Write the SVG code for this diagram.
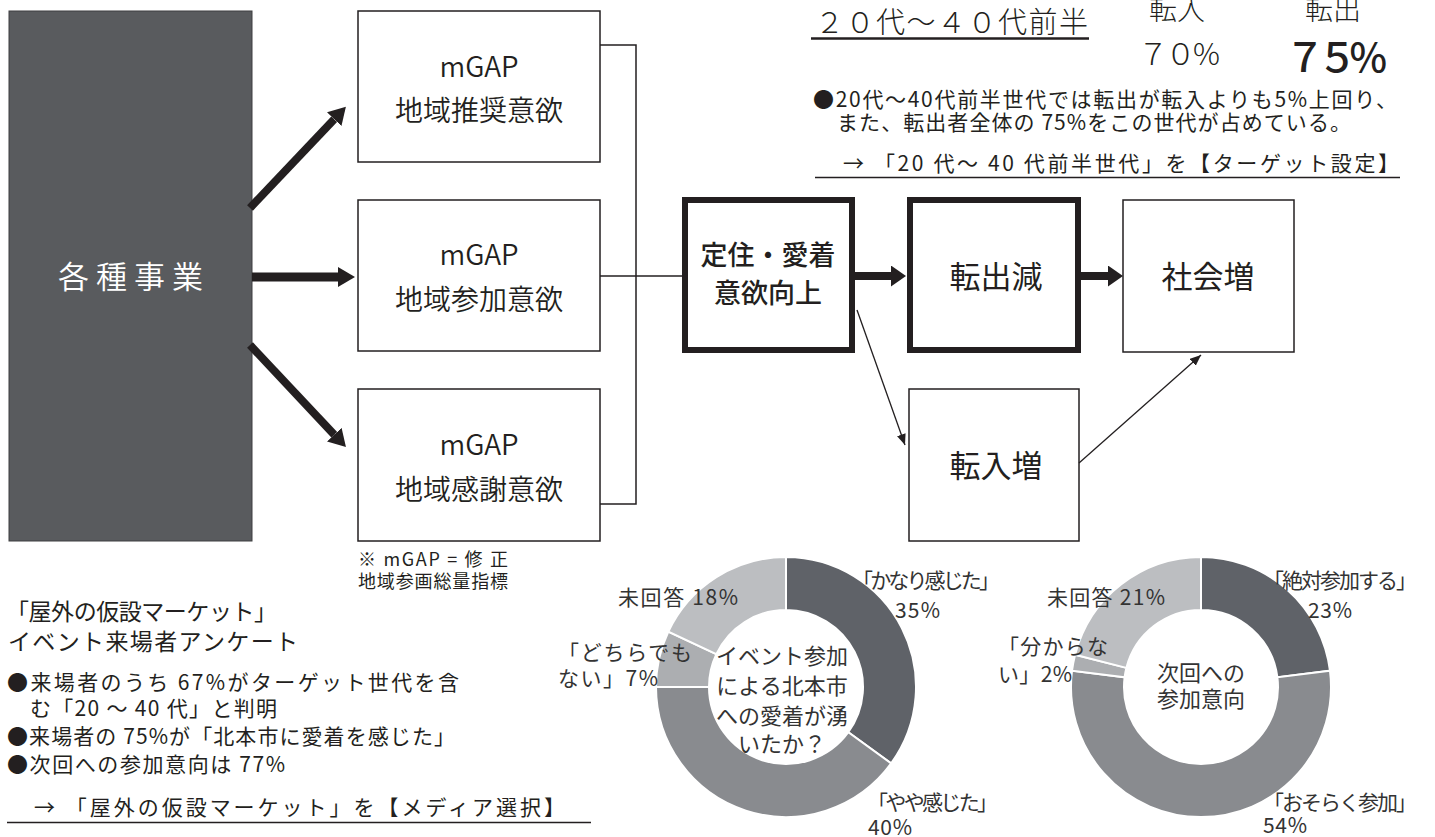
<svg xmlns="http://www.w3.org/2000/svg" width="1435" height="837" viewBox="0 0 1435 837">
<defs>
<style>
text{font-family:"Noto Sans CJK JP","Noto Sans",sans-serif;fill:#231f20}
.box{fill:#fff;stroke:#231f20;stroke-width:1.5}
.tbox{fill:#fff;stroke:#231f20;stroke-width:6}
.lbl{font-size:28px;text-anchor:middle;font-weight:350}
.blbl{font-size:31px;text-anchor:middle;font-weight:400}
.con{fill:none;stroke:#231f20;stroke-width:1.5}
.thick{stroke:#231f20;stroke-width:8;fill:none}
.thickh{stroke:#231f20;stroke-width:9;fill:none}
.thick2{stroke:#231f20;stroke-width:8;fill:none}
.thin{stroke:#231f20;stroke-width:1.3;fill:none}
.note{font-size:21px}
.ch{font-size:21px;fill:#333}
.chc{font-size:22px;fill:#333;text-anchor:middle}
.seg{stroke:#fff;stroke-width:2}
</style>
<marker id="headBig" markerUnits="userSpaceOnUse" markerWidth="18" markerHeight="22" refX="0" refY="10" orient="auto">
<path d="M0,0 L17,10 L0,20 Z" fill="#231f20"/>
</marker>
<marker id="headWide" markerUnits="userSpaceOnUse" markerWidth="16" markerHeight="22" refX="0" refY="10.5" orient="auto">
<path d="M0,0 L15,10.5 L0,21 Z" fill="#231f20"/>
</marker>
<marker id="headThin" markerUnits="userSpaceOnUse" markerWidth="12" markerHeight="10" refX="11" refY="4.5" orient="auto">
<path d="M0,0 L11,4.5 L0,9 Z" fill="#231f20"/>
</marker>
</defs>

<g id="node-jigyo">
<rect x="9" y="11" width="243" height="530" fill="#595b5e" stroke="#3e3f41" stroke-width="1"/>
<text x="134" y="288" font-size="31" text-anchor="middle" letter-spacing="7" font-weight="350" style="fill:#fff">各種事業</text>
</g>

<g id="node-mgap1">
<rect class="box" x="358" y="11" width="242" height="151"/>
<text class="lbl" x="479" y="77">mGAP</text>
<text class="lbl" x="479" y="121">地域推奨意欲</text>
</g>
<g id="node-mgap2">
<rect class="box" x="358" y="200" width="242" height="151"/>
<text class="lbl" x="479" y="265">mGAP</text>
<text class="lbl" x="479" y="310">地域参加意欲</text>
</g>
<g id="node-mgap3">
<rect class="box" x="358" y="389" width="242" height="152"/>
<text class="lbl" x="479" y="455">mGAP</text>
<text class="lbl" x="479" y="500">地域感謝意欲</text>
</g>

<g id="node-teiju">
<rect class="tbox" x="685" y="200" width="167" height="150"/>
<text x="768" y="265" font-size="27" text-anchor="middle" font-weight="500">定住・愛着</text>
<text x="768" y="303" font-size="27" text-anchor="middle" font-weight="500">意欲向上</text>
</g>
<g id="node-tenshutsugen">
<rect class="tbox" x="910" y="200" width="168" height="150"/>
<text class="blbl" x="996" y="288">転出減</text>
</g>
<g id="node-shakaizo">
<rect class="box" x="1123" y="200" width="171" height="152"/>
<text class="blbl" x="1208" y="288">社会増</text>
</g>
<g id="node-tennyuzo">
<rect class="box" x="909" y="389" width="170" height="152"/>
<text class="blbl" x="996" y="477">転入増</text>
</g>

<g id="connectors">
<line class="thick" x1="250" y1="208" x2="334.2" y2="119.2" marker-end="url(#headBig)"/>
<line class="thickh" x1="252" y1="277" x2="338" y2="277" marker-end="url(#headBig)"/>
<line class="thick" x1="250" y1="345" x2="334.3" y2="434.7" marker-end="url(#headBig)"/>
<polyline class="con" points="600,45 636,45 636,504 600,504"/>
<line class="con" x1="600" y1="276" x2="682" y2="276"/>
<line class="thick2" x1="855" y1="276" x2="891" y2="276" marker-end="url(#headWide)"/>
<line class="thick2" x1="1081" y1="276" x2="1108" y2="276" marker-end="url(#headWide)"/>
<line class="thin" x1="857" y1="310" x2="905" y2="445" marker-end="url(#headThin)"/>
<line class="thin" x1="1079" y1="463" x2="1201" y2="355" marker-end="url(#headThin)"/>
</g>

<g id="top-stats">
<text x="815" y="33" font-size="29" font-weight="300" textLength="273" lengthAdjust="spacing">２０代～４０代前半</text>
<line x1="811" y1="38.5" x2="1089" y2="38.5" stroke="#231f20" stroke-width="2.5"/>
<text x="1177" y="20" font-size="28" font-weight="300" text-anchor="middle">転入</text>
<text x="1333" y="20" font-size="28" font-weight="300" text-anchor="middle">転出</text>
<text x="1138" y="65" font-size="30" font-weight="300" textLength="82" lengthAdjust="spacing">７０%</text>
<text x="1285" y="72" font-size="40" font-weight="500" textLength="102" lengthAdjust="spacing">７５%</text>
<text class="note" x="813" y="107" textLength="584" lengthAdjust="spacing">●20代～40代前半世代では転出が転入よりも5%上回り、</text>
<text class="note" x="837" y="130" textLength="514" lengthAdjust="spacing">また、転出者全体の 75%をこの世代が占めている。</text>
<text class="note" x="843" y="171" textLength="556" lengthAdjust="spacing">→ 「20 代～ 40 代前半世代」を【ターゲット設定】</text>
<line x1="815" y1="177.5" x2="1400" y2="177.5" stroke="#231f20" stroke-width="1.5"/>
</g>

<g id="bottom-notes">
<text x="358" y="566" font-size="18" textLength="150" lengthAdjust="spacing">※ mGAP = 修 正</text>
<text x="358" y="588" font-size="18" textLength="150" lengthAdjust="spacing">地域参画総量指標</text>
<text x="6" y="620" font-size="23" textLength="271" lengthAdjust="spacing">「屋外の仮設マーケット」</text>
<text x="8" y="650" font-size="23" textLength="290" lengthAdjust="spacing">イベント来場者アンケート</text>
<text class="note" x="7" y="690" textLength="452" lengthAdjust="spacing">●来場者のうち 67%がターゲット世代を含</text>
<text class="note" x="30" y="716" textLength="247" lengthAdjust="spacing">む「20 ～ 40 代」と判明</text>
<text class="note" x="7" y="744" textLength="448" lengthAdjust="spacing">●来場者の 75%が「北本市に愛着を感じた」</text>
<text class="note" x="7" y="772" textLength="278" lengthAdjust="spacing">●次回への参加意向は 77%</text>
<text class="note" x="34" y="815" textLength="531" lengthAdjust="spacing">→ 「屋外の仮設マーケット」を【メディア選択】</text>
<line x1="7" y1="822.5" x2="591" y2="822.5" stroke="#231f20" stroke-width="1.5"/>
</g>

<g id="donut-aichaku">
<path class="seg" fill="#5f6268" d="M786,557 A130,130 0 0 1 891.17,763.41 L848.29,732.26 A77,77 0 0 0 786,610 Z"/>
<path class="seg" fill="#898b8f" d="M891.17,763.41 A130,130 0 0 1 656,687 L709,687 A77,77 0 0 0 848.29,732.26 Z"/>
<path class="seg" fill="#acaeb1" d="M656,687 A130,130 0 0 1 668.38,631.65 L716.33,654.21 A77,77 0 0 0 709,687 Z"/>
<path class="seg" fill="#bcbec1" d="M668.38,631.65 A130,130 0 0 1 786,557 L786,610 A77,77 0 0 0 716.33,654.21 Z"/>
<text class="ch" x="852" y="588" textLength="148" lengthAdjust="spacing">「かなり感じた」</text>
<text class="ch" x="895" y="618" textLength="45" lengthAdjust="spacing">35%</text>
<text class="ch" x="618" y="605" textLength="120" lengthAdjust="spacing">未回答 18%</text>
<text class="ch" x="558" y="660" textLength="134" lengthAdjust="spacing">「どちらでも</text>
<text class="ch" x="558" y="686" textLength="100" lengthAdjust="spacing">ない」7%</text>
<text class="chc" x="782" y="664">イベント参加</text>
<text class="chc" x="782" y="694">による北本市</text>
<text class="chc" x="782" y="724">への愛着が湧</text>
<text class="chc" x="782" y="752">いたか？</text>
<text class="ch" x="867" y="810" textLength="131" lengthAdjust="spacing">「やや感じた」</text>
<text class="ch" x="868" y="835" textLength="44" lengthAdjust="spacing">40%</text>
</g>

<g id="donut-sanka">
<path class="seg" fill="#5f6268" d="M1201,557 A130,130 0 0 1 1329.97,670.71 L1277.39,677.35 A77,77 0 0 0 1201,610 Z"/>
<path class="seg" fill="#898b8f" d="M1329.97,670.71 A130,130 0 1 1 1072.03,670.71 L1124.61,677.35 A77,77 0 1 0 1277.39,677.35 Z"/>
<path class="seg" fill="#acaeb1" d="M1072.03,670.71 A130,130 0 0 1 1075.08,654.67 L1126.42,667.85 A77,77 0 0 0 1124.61,677.35 Z"/>
<path class="seg" fill="#bcbec1" d="M1075.08,654.67 A130,130 0 0 1 1201,557 L1201,610 A77,77 0 0 0 1126.42,667.85 Z"/>
<text class="ch" x="1263" y="588" textLength="154" lengthAdjust="spacing">「絶対参加する」</text>
<text class="ch" x="1308" y="618" textLength="44" lengthAdjust="spacing">23%</text>
<text class="ch" x="1047" y="605" textLength="118" lengthAdjust="spacing">未回答 21%</text>
<text class="ch" x="998" y="654" textLength="110" lengthAdjust="spacing">「分からな</text>
<text class="ch" x="998" y="682" textLength="74" lengthAdjust="spacing">い」2%</text>
<text class="chc" x="1201" y="681" font-size="21">次回への</text>
<text class="chc" x="1201" y="707" font-size="21">参加意向</text>
<text class="ch" x="1263" y="810" textLength="154" lengthAdjust="spacing">「おそらく参加」</text>
<text class="ch" x="1263" y="833" textLength="44" lengthAdjust="spacing">54%</text>
</g>
</svg>
